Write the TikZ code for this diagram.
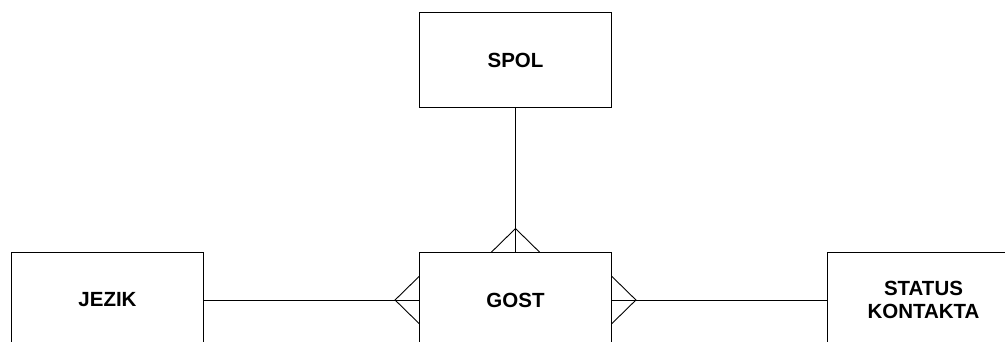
\documentclass[tikz,border=0pt]{standalone}
\usepackage{fontspec}
\setmainfont{Liberation Sans}
\begin{document}
\begin{tikzpicture}[x=1pt,y=-1pt,
  entity/.style={draw=black, line width=0.9pt, minimum width=192pt, minimum height=95pt,
    inner sep=0pt, align=center, font=\fontsize{20.5}{22.7}\selectfont\bfseries},
  rel/.style={draw=black, line width=0.9pt}]
\useasboundingbox (0,0) rectangle (1005,342);
\node[entity] (spol) at (515.5,60.25) {SPOL};
\node[entity] (gost) at (515.5,300) {GOST};
\node[entity] (jezik) at (107.5,300) {JEZIK};
\node[entity] (status) at (923.5,300) {STATUS\\KONTAKTA};
% SPOL -- GOST (many at GOST)
\draw[rel] (spol.south) -- (gost.north);
\coordinate (ta) at ([yshift=23.5pt]gost.north);
\draw[rel] ([xshift=-24pt]gost.north) -- (ta) -- ([xshift=24pt]gost.north);
% JEZIK -- GOST
\draw[rel] (jezik.east) -- (gost.west);
\coordinate (la) at ([xshift=-24pt]gost.west);
\draw[rel] ([yshift=23.5pt]gost.west) -- (la) -- ([yshift=-23.5pt]gost.west);
% GOST -- STATUS
\draw[rel] (gost.east) -- (status.west);
\coordinate (ra) at ([xshift=24pt]gost.east);
\draw[rel] ([yshift=23.5pt]gost.east) -- (ra) -- ([yshift=-23.5pt]gost.east);
\end{tikzpicture}
\end{document}
